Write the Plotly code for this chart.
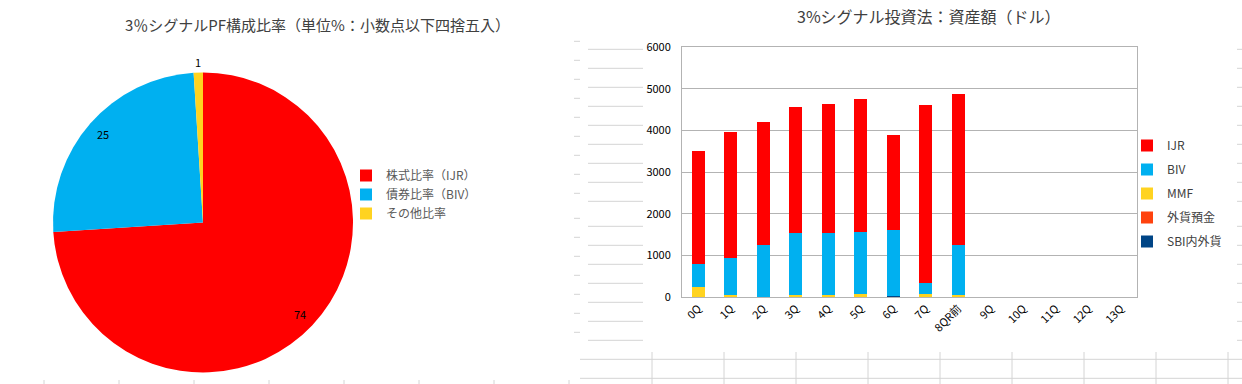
import math
import plotly.graph_objects as go

# ---------------- data ----------------
pie_labels = ["株式比率（IJR）", "債券比率（BIV）", "その他比率"]
pie_values = [74, 25, 1]
pie_colors = ["#FF0000", "#00B0F0", "#FFD320"]

quarters = ["0Q", "1Q", "2Q", "3Q", "4Q", "5Q", "6Q", "7Q", "8QR前",
            "9Q", "10Q", "11Q", "12Q", "13Q"]
ijr = [2700, 3020, 2950, 3020, 3090, 3180, 2270, 4260, 3620, None, None, None, None, None]
biv = [550, 890, 1245, 1480, 1480, 1490, 1585, 260, 1210, None, None, None, None, None]
mmf = [250, 50, 5, 60, 60, 80, 0, 80, 40, None, None, None, None, None]
fx_deposit = [0, 0, 0, 0, 0, 0, 0, 0, 0, None, None, None, None, None]
sbi_fx = [0, 0, 0, 0, 0, 0, 25, 0, 0, None, None, None, None, None]

bar_series = [  # bottom -> top, with legend rank
    ("SBI内外貨", sbi_fx, "#004586", 5),
    ("外貨預金", fx_deposit, "#FF420E", 4),
    ("MMF", mmf, "#FFD320", 3),
    ("BIV", biv, "#00B0F0", 2),
    ("IJR", ijr, "#FF0000", 1),
]

W, H = 1242, 384
FONT = "Noto Sans CJK JP"
TXT = "#404040"


def px(x):
    return x / W


def py(y):
    return (H - y) / H


fig = go.Figure()

# ---------------- pie ----------------
PIE_CX, PIE_CY, PIE_R = 203, 222.5, 150
fig.add_trace(go.Pie(
    labels=pie_labels, values=pie_values, sort=False, direction="clockwise",
    rotation=0, marker=dict(colors=pie_colors, line=dict(width=0)),
    textinfo="none",
    domain=dict(x=[px(PIE_CX - PIE_R), px(PIE_CX + PIE_R)],
                y=[py(PIE_CY + PIE_R), py(PIE_CY - PIE_R)]),
    legend="legend", showlegend=True, hoverinfo="label+value",
))

# data labels placed Excel "best fit" style, derived from slice angles
annotations = []
total = sum(pie_values)
cum = 0
for v in pie_values:
    theta = 2 * math.pi * (cum + v / 2) / total
    cum += v
    rf = 0.89 if v / total > 0.05 else 1.07
    lx = PIE_CX + PIE_R * rf * math.sin(theta)
    ly = PIE_CY - PIE_R * rf * math.cos(theta)
    annotations.append(dict(text=str(v), x=px(lx), y=py(ly), xref="paper", yref="paper",
                            showarrow=False, xanchor="center", yanchor="middle",
                            font=dict(family=FONT, size=11, color="#000000")))

# ---------------- stacked bars ----------------
for name, vals, col, rank in bar_series:
    fig.add_trace(go.Bar(
        x=quarters, y=vals, name=name, marker=dict(color=col, line=dict(width=0)),
        xaxis="x", yaxis="y", legend="legend2", legendgroup=name, legendrank=rank,
    ))

shapes = []
grid_col = "#D4D4D4"
rows = [49.3, 68.3, 87.3, 106.3, 125.3, 144.3, 163.3, 182.3, 201.3, 226.3,
        245.3, 264.3, 283.3, 302.3, 321.3, 340.3]
for y in rows:
    shapes.append(dict(type="line", xref="paper", yref="paper", x0=px(588), x1=px(643),
                       y0=py(y), y1=py(y), line=dict(color=grid_col, width=1), layer="below"))
    shapes.append(dict(type="line", xref="paper", yref="paper", x0=px(1237), x1=px(1242),
                       y0=py(y), y1=py(y), line=dict(color=grid_col, width=1), layer="below"))
    shapes.append(dict(type="line", xref="paper", yref="paper", x0=px(574), x1=px(580),
                       y0=py(y - 8), y1=py(y - 8), line=dict(color=grid_col, width=1), layer="below"))
for y in [359.3, 378.3]:
    shapes.append(dict(type="line", xref="paper", yref="paper", x0=px(580), x1=px(1242),
                       y0=py(y), y1=py(y), line=dict(color=grid_col, width=1), layer="below"))
for x in [652, 724, 796, 868, 940, 1012, 1084, 1156, 1228]:
    shapes.append(dict(type="line", xref="paper", yref="paper", x0=px(x), x1=px(x),
                       y0=py(352), y1=0, line=dict(color=grid_col, width=1), layer="below"))
for x in [44, 119, 194, 269, 344, 419, 494, 569]:
    shapes.append(dict(type="line", xref="paper", yref="paper", x0=px(x), x1=px(x),
                       y0=py(380), y1=0, line=dict(color=grid_col, width=1), layer="below"))

annotations += [
    dict(text="3％シグナルPF構成比率（単位%：小数点以下四捨五入）", x=px(317), y=py(25),
         xref="paper", yref="paper", showarrow=False, xanchor="center", yanchor="middle",
         font=dict(family=FONT, size=15, color="#404040")),
    dict(text="3%シグナル投資法：資産額（ドル）", x=px(929), y=py(16),
         xref="paper", yref="paper", showarrow=False, xanchor="center", yanchor="middle",
         font=dict(family=FONT, size=16, color="#404040")),
]

fig.update_layout(
    width=W, height=H, margin=dict(l=0, r=0, t=0, b=0, autoexpand=False),
    paper_bgcolor="white", plot_bgcolor="white",
    font=dict(family=FONT, size=11, color=TXT),
    barmode="stack", bargap=0.6,
    shapes=shapes,
    xaxis=dict(domain=[px(682), px(1137)], tickangle=-45, showgrid=False, automargin=False,
               showline=True, linecolor="#B3B3B3", mirror=True, ticks="",
               tickfont=dict(family=FONT, size=11, color="#000000"),
               type="category", categoryorder="array", categoryarray=quarters),
    yaxis=dict(domain=[py(297), py(47)], range=[0, 6000], dtick=1000, automargin=False,
               showgrid=True, gridcolor="#B3B3B3", gridwidth=1,
               showline=True, linecolor="#B3B3B3", mirror=True, zeroline=False,
               tickfont=dict(family=FONT, size=11, color="#000000"), ticks="",
               ticklabelstandoff=8),
    legend=dict(x=px(346), y=py(161), xanchor="left", yanchor="top",
                font=dict(family=FONT, size=12, color="#595959"),
                bgcolor="rgba(0,0,0,0)", itemwidth=30, traceorder="normal"),
    legend2=dict(x=px(1127), y=py(131), xanchor="left", yanchor="top",
                 font=dict(family=FONT, size=12, color="#404040"),
                 bgcolor="rgba(0,0,0,0)", traceorder="grouped",
                 tracegroupgap=5, itemwidth=30),
    annotations=annotations,
)

fig.write_html("out.html", config={"displayModeBar": False},
               post_script="document.body.style.margin='0px';")
